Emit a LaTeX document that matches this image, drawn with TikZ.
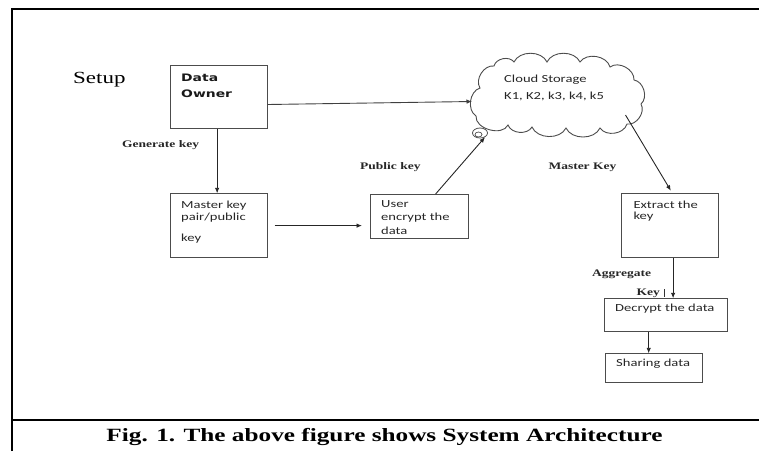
\documentclass[tikz,border=0pt]{standalone}
\usepackage{fontspec}
\usepackage{graphicx}
\setmainfont{Liberation Serif}
\newfontfamily\boxfont{Carlito}
\newfontfamily\headfont{DejaVu Sans}
\usetikzlibrary{shapes.geometric,arrows.meta,calc}
% all lettering in this figure is set a little wide
\newcommand\wide[1]{\scalebox{1.35}[1]{#1}}
\begin{document}
\begin{tikzpicture}[x=1pt,y=-1pt,
  frame/.style={line width=2.6pt,black},
  box/.style={draw=black!70,line width=0.9pt,inner sep=0,anchor=north west},
  arr/.style={-{Latex[length=5.5pt,width=4.5pt]},line width=0.9pt,black!85},
  btxt/.style={font=\boxfont\fontsize{10.8}{13}\selectfont,inner sep=0,anchor=base west,text=black!85},
  htxt/.style={font=\headfont\bfseries\fontsize{10.3}{12}\selectfont,inner sep=0,anchor=base west,text=black!90},
  lbl/.style={font=\bfseries\fontsize{10}{12}\selectfont,inner sep=0,anchor=base west,text=black!85},
  puff/.style={bend left=#1},
]
\useasboundingbox (0,0) rectangle (759,451);

% outer frame and caption rule
\draw[frame] (12,451) -- (12,9) -- (759,9);
\draw[frame] (12,420) -- (759,420);

% boxes
\node[box,minimum width=96.4,minimum height=62.7] (owner) at (170.3,65.3) {};
\node[box,minimum width=96.4,minimum height=63.7] (mkey)  at (170.3,193.3) {};
\node[box,minimum width=98.3,minimum height=44.3] (user)  at (370,194) {};
\node[box,minimum width=96.7,minimum height=63.4] (ext)   at (621,193.3) {};
\node[box,minimum width=122.7,minimum height=33]  (dec)   at (604,298.3) {};
\node[box,minimum width=97.3,minimum height=28.4] (share) at (605,353.3) {};

% cloud storage: a ring of puffs, then its small tail bubble
\draw[black!70,line width=0.9pt,fill=white]
  (480,88) to[puff=65] (494,66) to[puff=65] (514,62) to[puff=65] (547,62)
  to[puff=65] (580,62) to[puff=65] (610,67) to[puff=65] (634,80)
  to[puff=65] (641,104) to[puff=65] (627,124) to[puff=65] (600,128)
  to[puff=65] (566,128) to[puff=65] (532,127) to[puff=65] (508,125)
  to[puff=80] (476,116) to[puff=65] cycle;
\node[ellipse,draw=black!70,line width=0.8pt,minimum width=15,minimum height=10,inner sep=0,fill=white] (bubble) at (480,133) {};
\node[ellipse,draw=black!70,line width=0.7pt,minimum width=7,minimum height=5,inner sep=0] (bubin) at (478.5,134.5) {};
\coordinate (cloudin) at (472,101.5);
\coordinate (cloudout) at (625.5,115);

% texts
\node[font=\fontsize{17}{20}\selectfont,inner sep=0,anchor=base west] (setup) at (73,83) {\wide{Setup}};
\node[htxt] (own1) at (181,81.5) {\wide{Data}};
\node[htxt] (own2) at (181,97) {\wide{Owner}};
\node[btxt] (mk1) at (181,208) {\wide{Master key}};
\node[btxt] (mk2) at (181,220.5) {\wide{pair/public}};
\node[btxt] (mk3) at (181,241) {\wide{key}};
\node[btxt] (us1) at (381,207.3) {\wide{User}};
\node[btxt] (us2) at (381,220.5) {\wide{encrypt the}};
\node[btxt] (us3) at (381,234) {\wide{data}};
\node[btxt] (cl1) at (504,82.5) {\wide{Cloud Storage}};
\node[btxt] (cl2) at (504,99) {\wide{K1, K2, k3, k4, k5}};
\node[btxt] (ex1) at (633.3,208) {\wide{Extract the}};
\node[btxt] (ex2) at (633.3,219.5) {\wide{key}};
\node[btxt] (de1) at (615,311) {\wide{Decrypt the data}};
\node[btxt] (sh1) at (616,366.5) {\wide{Sharing data}};

\node[lbl] (gen) at (122,147.5) {\wide{Generate key}};
\node[lbl] (pub) at (360,169.3) {\wide{Public key}};
\node[lbl] (mas) at (548.3,169.3) {\wide{Master Key}};
\node[lbl] (agg) at (592,276) {\wide{Aggregate}};
\node[lbl] (akey) at (636.5,295.5) {\wide{Key}};
\draw[black!80,line width=0.8pt] (664,289) -- (664,297);

% connectors
\draw[arr] ([xshift=-1.8pt]owner.south) -- ([xshift=-1.8pt]mkey.north);
\draw[arr,shorten <=7pt,shorten >=8pt] (mkey.east) -- (mkey.east -| user.west);
\draw[arr,black!75] ([yshift=-7.4pt]owner.east) -- (cloudin);
\draw[arr] ([xshift=16pt]user.north) -- (bubble.-40);
\draw[arr,shorten >=3pt] (cloudout) -- ([xshift=2.6pt]ext.north);
\draw[arr] ([xshift=3.3pt]ext.south) -- ([xshift=3.3pt]ext.south |- dec.north);
\draw[arr] ([xshift=-5.4pt]share.north |- dec.south) -- ([xshift=-5.4pt]share.north);

% caption
\node[font=\bfseries\fontsize{18.7}{22}\selectfont,inner sep=0,anchor=base] (cap) at (384.5,441.7)
  {\wide{Fig. 1. The above figure shows System Architecture}};
\end{tikzpicture}
\end{document}
